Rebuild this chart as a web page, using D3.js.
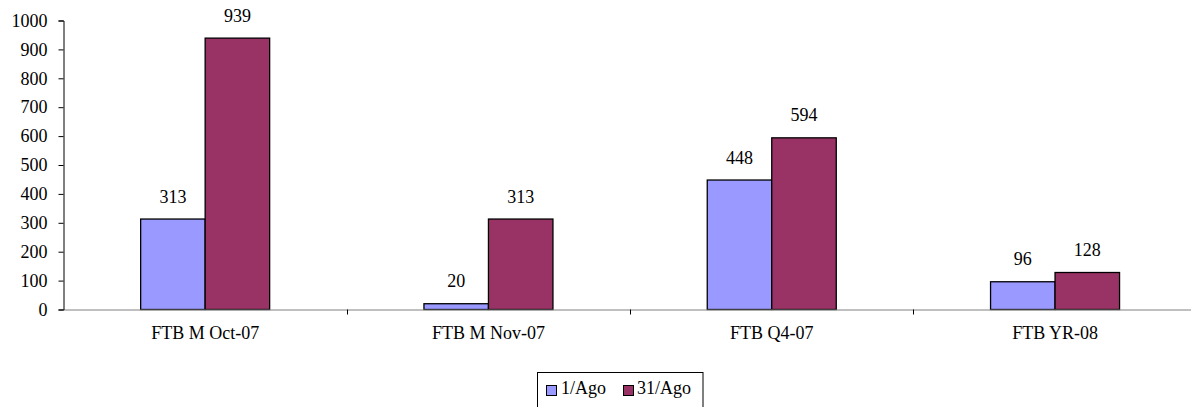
<!DOCTYPE html>
<html><head><meta charset="utf-8">
<script src="https://cdn.jsdelivr.net/npm/d3@7/dist/d3.min.js"></script>
<style>body{margin:0;background:#fff}svg{display:block}text{font-family:"Liberation Serif","Times New Roman",serif}</style>
</head><body>
<script>
const categories = ["FTB M Oct-07","FTB M Nov-07","FTB Q4-07","FTB YR-08"];
const seriesNames = ["1/Ago","31/Ago"];
const ago1 = [313,20,448,96];
const ago31 = [939,313,594,128];
const yTicks = [0,100,200,300,400,500,600,700,800,900,1000];
const colors = ["#9999FF","#993366"];

const W=1191,H=407, FS="18px";
const svg=d3.select("body").append("svg").attr("width",W).attr("height",H);
const x0=63.5, catW=283.3, yBase=309.5, yTop=20.5;
const x=d3.scaleBand().domain(categories).range([x0,x0+catW*categories.length]).paddingInner(0).paddingOuter(0);
const y=d3.scaleLinear().domain([0,1000]).range([yBase,yTop]);
const barW=64.5;
const data=[ago1,ago31];

// bars
data.forEach((vals,si)=>{
  svg.append("g").selectAll("rect").data(vals).join("rect")
    .attr("x",(d,i)=>x(categories[i])+catW/2-barW+si*barW)
    .attr("y",d=>y(d)).attr("width",barW).attr("height",d=>yBase-y(d))
    .attr("fill",colors[si]).attr("stroke","#000").attr("stroke-width",1.3);
  svg.append("g").selectAll("text").data(vals).join("text")
    .attr("x",(d,i)=>x(categories[i])+catW/2-barW/2+si*barW)
    .attr("y",d=>y(d)-16.5).attr("text-anchor","middle").attr("font-size",FS).text(d=>d);
});

// x axis
const xa=svg.append("g").attr("transform",`translate(0,${yBase})`).call(d3.axisBottom(x).tickSize(0).tickPadding(17));
xa.select(".domain").attr("stroke","#808080");
xa.selectAll("text").attr("font-size",FS).attr("fill","#000").attr("font-family","Liberation Serif");
svg.append("g").selectAll("line").data(categories.slice(1)).join("line")
  .attr("x1",d=>Math.round(x(d))+0.5).attr("x2",d=>Math.round(x(d))+0.5).attr("y1",yBase).attr("y2",yBase+5).attr("stroke","#000");

// y axis
const ya=svg.append("g").attr("transform",`translate(${x0},0)`).call(d3.axisLeft(y).tickValues(yTicks).tickFormat(d3.format("d")).tickSize(5).tickPadding(11));
ya.select(".domain").attr("stroke","#000");
ya.selectAll(".tick line").attr("stroke","#000");
ya.selectAll("text").attr("font-size",FS).attr("fill","#000").attr("font-family","Liberation Serif");

// legend
const lg=svg.append("g");
lg.append("rect").attr("x",537.5).attr("y",372.5).attr("width",165.5).attr("height",40).attr("fill","#fff").attr("stroke","#000");
const items=[{x:546,tx:561},{x:623,tx:637}];
seriesNames.forEach((n,i)=>{
  lg.append("rect").attr("x",items[i].x+0.5).attr("y",385.5).attr("width",10).attr("height",10).attr("fill",colors[i]).attr("stroke","#000");
  lg.append("text").attr("x",items[i].tx).attr("y",394).attr("font-size",FS).text(n);
});
</script>
</body></html>
